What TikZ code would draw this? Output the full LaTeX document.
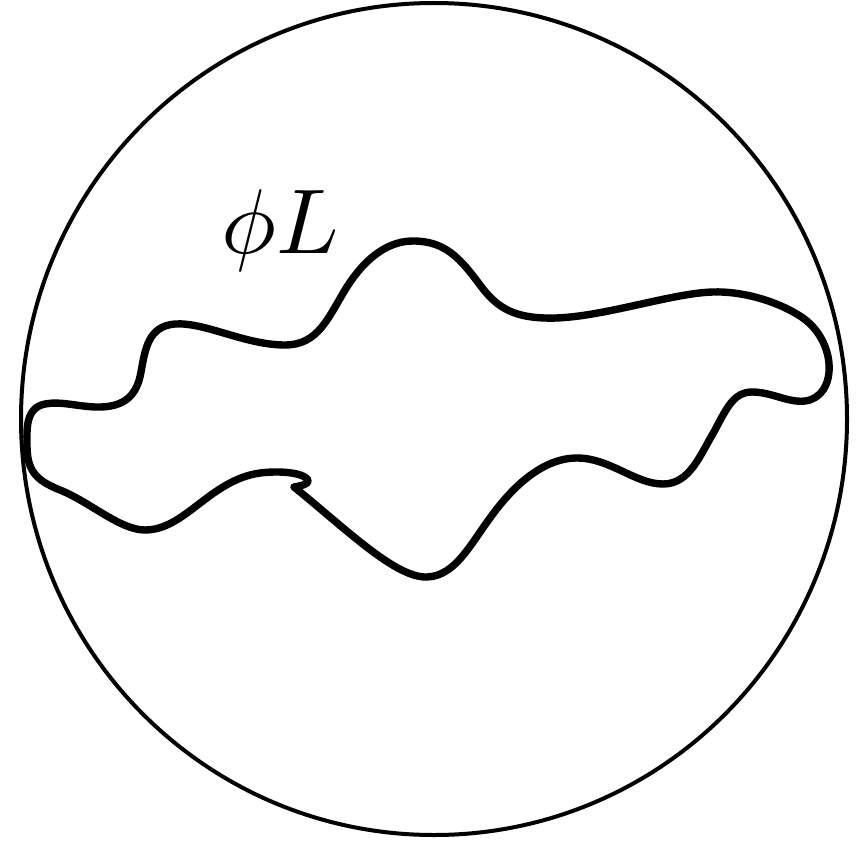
\documentclass[tikz,border=0pt]{standalone}
\begin{document}
\begin{tikzpicture}[x=0.5pt,y=-0.5pt,
  rim/.style={line width=2pt},
  loopcurve/.style={line width=3.7pt,line join=round,line cap=round},
  lbl/.style={inner sep=0pt,scale=4.6}]
\useasboundingbox (0,0) rectangle (861,840);
\draw[rim] (434,419) ellipse [x radius=413, y radius=416];
\coordinate (s) at (294,487);
\draw[loopcurve] (s)
 .. controls (345,528) and (395,578) .. (427,577)
 .. controls (455,576) and (470,545) .. (490,518)
 .. controls (515,483) and (545,458) .. (577,458)
 .. controls (610,458) and (635,484) .. (663,484)
 .. controls (690,484) and (700,455) .. (715,430)
 .. controls (728,405) and (735,392) .. (752,392)
 .. controls (772,392) and (788,403) .. (805,401)
 .. controls (838,397) and (838,340) .. (800,316)
 .. controls (775,300) and (740,291) .. (713,292)
 .. controls (670,293) and (595,320) .. (545,318)
 .. controls (510,317) and (495,305) .. (480,285)
 .. controls (460,258) and (445,241) .. (413,241)
 .. controls (385,241) and (362,262) .. (345,290)
 .. controls (328,318) and (318,345) .. (285,345)
 .. controls (245,345) and (205,322) .. (175,324)
 .. controls (148,326) and (145,350) .. (141,372)
 .. controls (137,395) and (125,408) .. (95,407)
 .. controls (75,406) and (60,401) .. (45,404)
 .. controls (25,408) and (27,430) .. (27,445)
 .. controls (27,470) and (35,480) .. (60,490)
 .. controls (90,502) and (120,530) .. (145,530)
 .. controls (185,530) and (210,480) .. (260,473)
 .. controls (285,470) and (305,474) .. (308,480)
 .. controls (310,484) and (300,486) .. (s);
\node[lbl,anchor=base] (phiL) at (280,253) {$\phi L$};
\end{tikzpicture}
\end{document}
